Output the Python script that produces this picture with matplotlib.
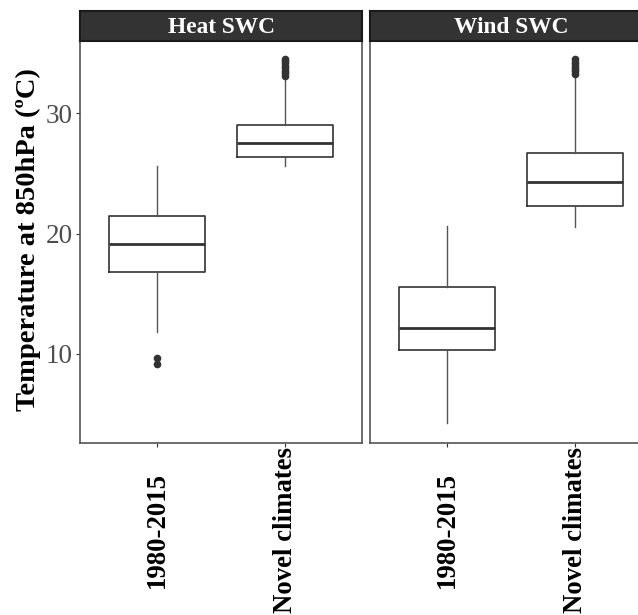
import matplotlib
matplotlib.use("Agg")
import matplotlib.pyplot as plt

plt.rcParams['font.family'] = ['Liberation Serif', 'DejaVu Serif']

panels = ['Heat SWC', 'Wind SWC']
categories = ['1980-2015', 'Novel climates']

# box stats per panel, per category: whisker low, Q1, median, Q3, whisker high
whislo = [[11.85, 25.65], [4.24, 20.56]]
q1 = [[16.84, 26.40], [10.33, 22.30]]
med = [[19.17, 27.56], [12.16, 24.30]]
q3 = [[21.47, 29.04], [15.57, 26.68]]
whishi = [[25.63, 32.83], [20.60, 33.10]]
fliers = [
    [[9.64, 9.17], [33.15, 33.35, 33.55, 33.75, 33.95, 34.15, 34.35, 34.55]],
    [[], [33.3, 33.5, 33.7, 33.9, 34.1, 34.3, 34.5]],
]

W, H = 638, 615
fig = plt.figure(figsize=(W / 100, H / 100), dpi=100)

panel_left = [80, 370]
panel_w = 282
top, bottom = 41, 443
strip_top = 11

dark = '#333333'
for i, name in enumerate(panels):
    ax = fig.add_axes([panel_left[i] / W, 1 - bottom / H, panel_w / W, (bottom - top) / H])
    stats = []
    for j, cat in enumerate(categories):
        stats.append(dict(whislo=whislo[i][j], q1=q1[i][j], med=med[i][j],
                          q3=q3[i][j], whishi=whishi[i][j], fliers=fliers[i][j], label=cat))
    ax.bxp(stats, positions=[1, 2], widths=0.75, showcaps=False,
           boxprops=dict(color=dark, linewidth=1.2),
           medianprops=dict(color=dark, linewidth=2.0),
           whiskerprops=dict(color='#555555', linewidth=1.0),
           flierprops=dict(marker='o', markerfacecolor=dark, markeredgecolor=dark,
                           markersize=4.5))
    ax.set_xlim(0.4, 2.6)
    ax.set_ylim(2.60, 36.02)
    ax.set_yticks([10, 20, 30])
    for s in ax.spines.values():
        s.set_color('#555555')
        s.set_linewidth(1.2)
    ax.tick_params(axis='both', color=dark, length=3, width=0.8)
    ax.set_xticks([1, 2])
    ax.set_xticklabels(categories, rotation=90, ha='center', va='center',
                       fontsize=19.3, fontweight='bold', color='black')
    ax.tick_params(axis='x', pad=59.5)
    if i == 0:
        ax.tick_params(axis='y', labelsize=19.5, labelcolor='#4D4D4D', pad=2)
    else:
        ax.tick_params(axis='y', left=False, labelleft=False)
        ax.spines['right'].set_visible(False)

    sax = fig.add_axes([panel_left[i] / W, 1 - top / H, panel_w / W, (top - strip_top) / H])
    sax.set_facecolor(dark)
    sax.set_xticks([])
    sax.set_yticks([])
    for s in sax.spines.values():
        s.set_color('#1a1a1a')
        s.set_linewidth(1.5)
    sax.text(0.5, 0.45, name, transform=sax.transAxes, ha='center', va='center',
             color='white', fontsize=16.8, fontweight='bold')

fig.text(28 / W, 1 - 240 / H, 'Temperature at 850hPa (ºC)', rotation=90,
         ha='center', va='center', fontsize=20.5, fontweight='bold')

fig.savefig('out.png', dpi=100)
